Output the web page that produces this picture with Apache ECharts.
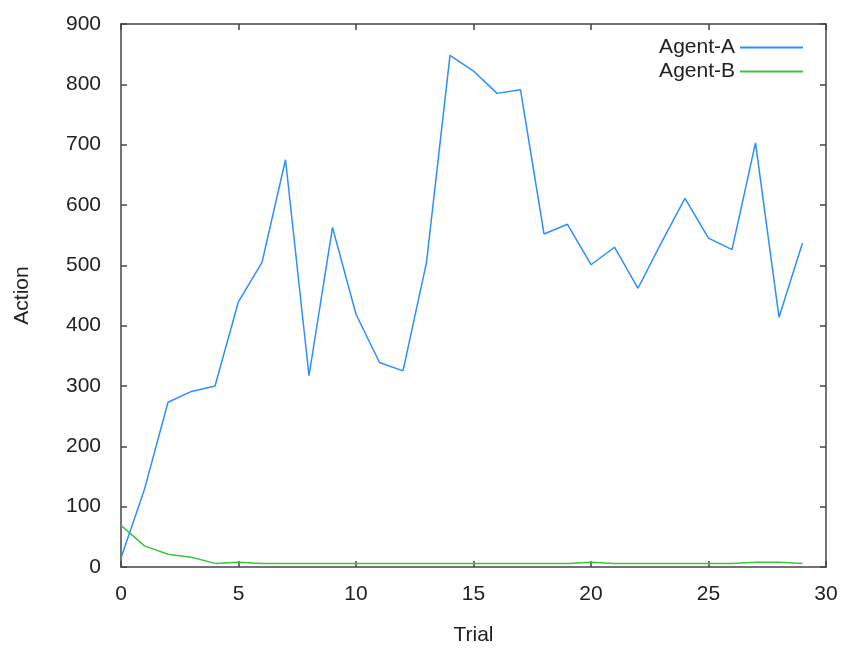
<!DOCTYPE html>
<html>
<head>
<meta charset="utf-8">
<script src="https://cdn.jsdelivr.net/npm/echarts@6/dist/echarts.min.js"></script>
<style>html,body{margin:0;padding:0;background:#fff}#c{width:844px;height:651px}</style>
</head>
<body>
<div id="c"></div>
<script>
var trials = [0,1,2,3,4,5,6,7,8,9,10,11,12,13,14,15,16,17,18,19,20,21,22,23,24,25,26,27,28,29];
var agentA = [15,129,273,291,300,440,505,675,317,563,419,339,325,505,848,822,785,791,552,568,501,530,462,538,611,545,526,703,414,537];
var agentB = [69,35,21,16,6,8,6,6,6,6,6,6,6,6,6,6,6,6,6,6,8,6,6,6,6,6,6,8,8,6];
var seriesNames = ['Agent-A','Agent-B'];
var colors = ['#2b8fff','#3ec43e'];

function pairs(ys){ return trials.map(function(t,i){ return [t, ys[i]]; }); }

var chart = echarts.init(document.getElementById('c'), null, {width:844, height:651});
var fontFam = '"Liberation Sans", Arial, sans-serif';
var axisLineStyle = {color:'#444', width:1.5};
var fs = 21, tc = '#222';
chart.setOption({
  animation:false,
  backgroundColor:'#fff',
  textStyle:{fontFamily:fontFam},
  grid:{left:121, width:705, top:24, height:548, show:false},
  legend:{
    right:41, top:37, orient:'vertical', align:'right', padding:0,
    itemWidth:63, itemHeight:2, itemGap:3,
    icon:'rect',
    textStyle:{fontSize:fs, color:tc, fontFamily:fontFam},
    data:seriesNames
  },
  xAxis:[{
    type:'value', min:0, max:30, interval:5,
    name:'Trial', nameLocation:'middle', nameGap:58,
    nameTextStyle:{fontSize:fs, color:tc},
    axisLine:{show:true, onZero:false, lineStyle:axisLineStyle},
    axisTick:{show:true, inside:true, length:6, lineStyle:axisLineStyle},
    axisLabel:{fontSize:fs, color:tc, margin:17},
    splitLine:{show:false}
  },{
    type:'value', min:0, max:30, interval:5, position:'top',
    axisLine:{show:true, onZero:false, lineStyle:axisLineStyle},
    axisTick:{show:true, inside:true, length:6, lineStyle:axisLineStyle},
    axisLabel:{show:false}, splitLine:{show:false}
  }],
  yAxis:[{
    type:'value', min:0, max:900, interval:100,
    name:'Action', nameLocation:'middle', nameGap:88, nameRotate:90,
    nameTextStyle:{fontSize:fs, color:tc},
    axisLine:{show:true, onZero:false, lineStyle:axisLineStyle},
    axisTick:{show:true, inside:true, length:6, lineStyle:axisLineStyle},
    axisLabel:{fontSize:fs, color:tc, margin:20},
    splitLine:{show:false}
  },{
    type:'value', min:0, max:900, interval:100, position:'right',
    axisLine:{show:true, onZero:false, lineStyle:axisLineStyle},
    axisTick:{show:true, inside:true, length:6, lineStyle:axisLineStyle},
    axisLabel:{show:false}, splitLine:{show:false}
  }],
  series:[{
    name:seriesNames[0], type:'line', data:pairs(agentA),
    showSymbol:false, symbol:'none', color:colors[0],
    lineStyle:{width:1.5, color:colors[0]}
  },{
    name:seriesNames[1], type:'line', data:pairs(agentB),
    showSymbol:false, symbol:'none', color:colors[1],
    lineStyle:{width:1.5, color:colors[1]}
  }]
});
</script>
</body>
</html>
